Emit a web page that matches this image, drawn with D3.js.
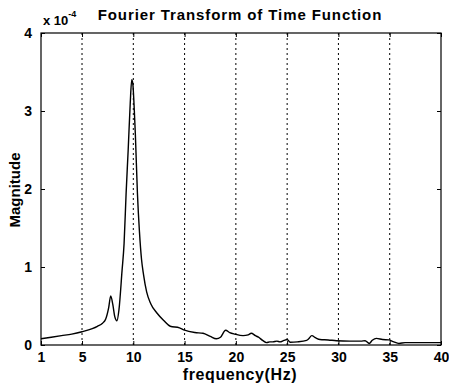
<!DOCTYPE html>
<html><head><meta charset="utf-8">
<script src="https://cdn.jsdelivr.net/npm/d3@7"></script>
<style>
body{margin:0;background:#fff;}
text{font-family:"Liberation Sans",Arial,Helvetica,sans-serif;font-weight:bold;fill:#000;}
</style></head>
<body><svg id="c" width="449" height="387"></svg>
<script>
const freq = [1,2,3,4,5,6,6.5,7,7.3,7.6,7.8,8.0,8.2,8.4,8.6,8.9,9.1,9.3,9.5,9.7,9.85,9.95,10.1,10.2,10.4,10.6,10.8,11.0,11.3,11.7,12.3,13,13.6,14.5,15,16,16.8,17.5,18.1,18.5,19.0,19.4,19.9,20.7,21.2,21.5,21.9,22.2,22.6,23.0,23.3,23.6,24.0,24.3,24.7,25.0,25.3,26.0,26.9,27.1,27.4,27.8,28.2,29,29.8,31.1,32.2,32.6,33.0,33.3,33.7,34.3,34.9,35.4,35.9,36.5,38,40];
const magnitude = [0.08,0.10,0.12,0.14,0.17,0.21,0.24,0.28,0.33,0.48,0.63,0.52,0.36,0.31,0.45,0.95,1.3,1.95,2.5,3.1,3.40,3.35,3.0,2.7,1.95,1.45,1.10,0.90,0.68,0.53,0.41,0.31,0.24,0.22,0.19,0.16,0.15,0.11,0.08,0.1,0.19,0.16,0.14,0.12,0.13,0.15,0.12,0.1,0.06,0.03,0.04,0.04,0.05,0.04,0.06,0.07,0.035,0.04,0.06,0.08,0.12,0.09,0.07,0.065,0.055,0.05,0.05,0.055,0.02,0.06,0.085,0.07,0.065,0.04,0.02,0.03,0.03,0.03];
const xTicks = [1,5,10,15,20,25,30,35,40];
const yTicks = [0,1,2,3,4];
const gridX = [5,10,15,20,25,30,35];

const svg = d3.select("#c");
const L=41,R=441,T=33,B=345;
const x = d3.scaleLinear().domain([1,40]).range([L,R]);
const y = d3.scaleLinear().domain([0,4]).range([B,T]);

// grid
svg.append("g").selectAll("line").data(gridX).join("line")
  .attr("x1",d=>x(d)).attr("x2",d=>x(d)).attr("y1",T).attr("y2",B)
  .attr("stroke","#000").attr("stroke-width",1).attr("stroke-dasharray","2,3");

// frame
svg.append("rect").attr("x",L).attr("y",T).attr("width",R-L).attr("height",B-T)
  .attr("fill","none").attr("stroke","#000").attr("stroke-width",1.2);

// axes
const xb = svg.append("g").attr("transform",`translate(0,${B})`)
  .call(d3.axisBottom(x).tickValues(xTicks).tickSizeInner(-4).tickSizeOuter(0).tickPadding(7).tickFormat(d3.format("d")));
const xt = svg.append("g").attr("transform",`translate(0,${T})`)
  .call(d3.axisTop(x).tickValues(xTicks).tickSizeInner(-4).tickSizeOuter(0).tickFormat(""));
const yl = svg.append("g").attr("transform",`translate(${L},0)`)
  .call(d3.axisLeft(y).tickValues(yTicks).tickSizeInner(-4).tickSizeOuter(0).tickPadding(9).tickFormat(d3.format("d")));
const yr = svg.append("g").attr("transform",`translate(${R},0)`)
  .call(d3.axisRight(y).tickValues(yTicks).tickSizeInner(-4).tickSizeOuter(0).tickFormat(""));
[xb,xt,yl,yr].forEach(g=>{g.select(".domain").remove();g.selectAll("line").attr("stroke","#000");});
[xb,yl].forEach(g=>g.selectAll("text").attr("font-size",14).attr("font-family","Liberation Sans, Arial").attr("font-weight","bold").attr("fill","#000"));

// line
svg.append("path").datum(freq.map((f,i)=>[f,magnitude[i]]))
  .attr("d",d3.line().curve(d3.curveMonotoneX).x(d=>x(d[0])).y(d=>y(d[1])))
  .attr("fill","none").attr("stroke","#000").attr("stroke-width",1.4);

// texts
svg.append("text").attr("x",240).attr("y",20).attr("text-anchor","middle").attr("font-size",15).attr("letter-spacing",0.9).text("Fourier Transform of Time Function");
const ex = svg.append("text").attr("x",43).attr("y",25).attr("font-size",13);
ex.append("tspan").text("x 10");
ex.append("tspan").attr("dy",-8).attr("font-size",9).text("-4");
svg.append("text").attr("x",240).attr("y",380).attr("text-anchor","middle").attr("font-size",16).attr("letter-spacing",0.6).text("frequency(Hz)");
svg.append("text").attr("transform","translate(20,190) rotate(-90)").attr("text-anchor","middle").attr("font-size",15).text("Magnitude");
</script></body></html>
